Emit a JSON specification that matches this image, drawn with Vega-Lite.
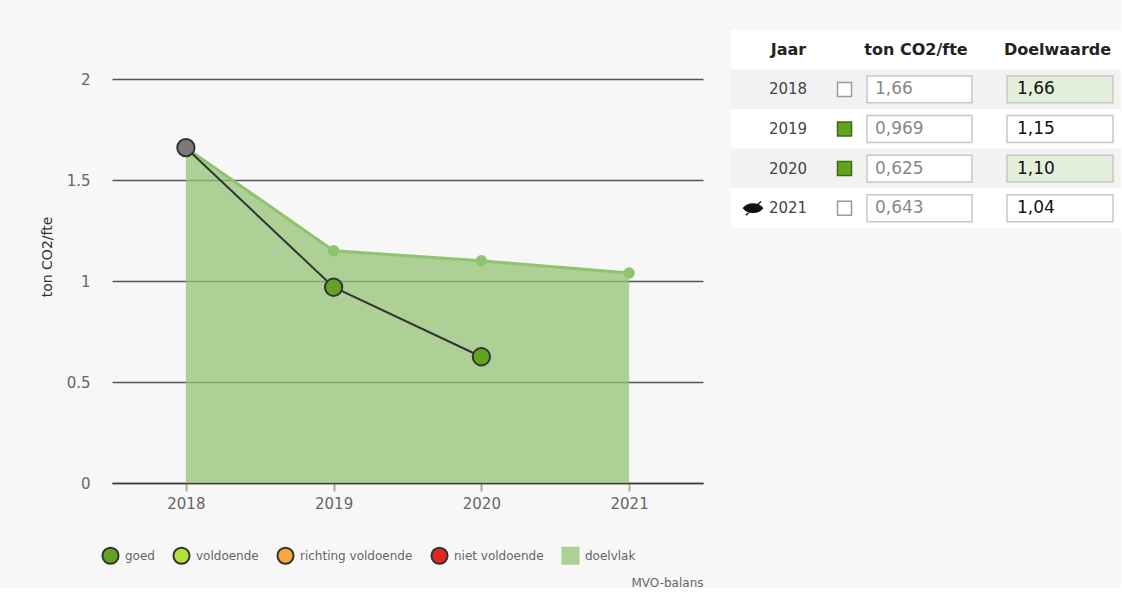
{
  "$schema": "https://vega.github.io/schema/vega-lite/v6.json",
  "background": "#f7f7f7",
  "padding": {"left": 40, "top": 30, "right": 0, "bottom": 0},
  "config": {"font": "DejaVu Sans", "view": {"stroke": null}},
  "datasets": {
    "co2": [
      {"jaar": 2018, "waarde": 1.66, "doel": 1.66, "status": "basisjaar"},
      {"jaar": 2019, "waarde": 0.969, "doel": 1.15, "status": "goed"},
      {"jaar": 2020, "waarde": 0.625, "doel": 1.10, "status": "goed"},
      {"jaar": 2021, "waarde": 0.643, "doel": 1.04, "status": "verborgen"}
    ]
  },
  "spacing": 28,
  "hconcat": [
    {
      "width": 591,
      "height": 453,
      "view": {"fill": "#f7f7f7", "stroke": null},
      "data": {"name": "co2"},
      "encoding": {
        "x": {
          "field": "jaar",
          "type": "quantitative",
          "scale": {"domain": [2017.5, 2021.5], "nice": false, "zero": false},
          "axis": {
            "values": [2018, 2019, 2020, 2021],
            "format": "d",
            "grid": false,
            "domainColor": "#3a3a3a",
            "domainWidth": 1.5,
            "tickColor": "#a8a8a8",
            "tickSize": 8,
            "tickWidth": 2,
            "labelPadding": 5,
            "labelFontSize": 15,
            "labelColor": "#666666",
            "labelFlush": false,
            "title": "MVO-balans",
            "titleAnchor": "end",
            "titleAlign": "right",
            "titleFontSize": 12,
            "titleFontWeight": "normal",
            "titleColor": "#666666",
            "titlePadding": 66
          }
        }
      },
      "layer": [
        {
          "mark": {"type": "area", "fill": "#93c374", "fillOpacity": 0.75},
          "encoding": {
            "y": {
              "field": "doel", "type": "quantitative",
              "scale": {"domain": [0, 2.2426], "nice": false},
              "axis": {"values": [0, 0.5, 1, 1.5, 2], "format": ".1~f", "grid": true, "gridColor": "#555555", "gridWidth": 1.3, "domain": false, "ticks": false, "labelPadding": 22, "labelFontSize": 15, "labelColor": "#666666", "title": "ton CO2/fte", "titleFontSize": 14, "titleFontWeight": "normal", "titleColor": "#333333", "titlePadding": 12}
            }
          }
        },
        {
          "mark": {"type": "line", "stroke": "#8ec46f", "strokeWidth": 3},
          "encoding": {
            "y": {
              "field": "doel", "type": "quantitative",
              "scale": {"domain": [0, 2.2426], "nice": false},
              "axis": {"values": [0, 0.5, 1, 1.5, 2], "format": ".1~f", "grid": true, "gridColor": "#555555", "gridWidth": 1.3, "domain": false, "ticks": false, "labelPadding": 22, "labelFontSize": 15, "labelColor": "#666666", "title": "ton CO2/fte", "titleFontSize": 14, "titleFontWeight": "normal", "titleColor": "#333333", "titlePadding": 12}
            }
          }
        },
        {
          "mark": {"type": "point", "filled": true, "fill": "#8ec46f", "size": 130, "opacity": 1, "strokeWidth": 0},
          "encoding": {
            "y": {
              "field": "doel", "type": "quantitative",
              "scale": {"domain": [0, 2.2426], "nice": false},
              "axis": {"values": [0, 0.5, 1, 1.5, 2], "format": ".1~f", "grid": true, "gridColor": "#555555", "gridWidth": 1.3, "domain": false, "ticks": false, "labelPadding": 22, "labelFontSize": 15, "labelColor": "#666666", "title": "ton CO2/fte", "titleFontSize": 14, "titleFontWeight": "normal", "titleColor": "#333333", "titlePadding": 12}
            }
          }
        },
        {
          "transform": [{"filter": "datum.status != 'verborgen'"}],
          "mark": {"type": "line", "stroke": "#333333", "strokeWidth": 2},
          "encoding": {
            "y": {
              "field": "waarde", "type": "quantitative",
              "scale": {"domain": [0, 2.2426], "nice": false},
              "axis": {"values": [0, 0.5, 1, 1.5, 2], "format": ".1~f", "grid": true, "gridColor": "#555555", "gridWidth": 1.3, "domain": false, "ticks": false, "labelPadding": 22, "labelFontSize": 15, "labelColor": "#666666", "title": "ton CO2/fte", "titleFontSize": 14, "titleFontWeight": "normal", "titleColor": "#333333", "titlePadding": 12}
            }
          }
        },
        {
          "transform": [{"filter": "datum.status != 'verborgen'"}],
          "mark": {"type": "point", "filled": true, "size": 300, "strokeWidth": 2, "opacity": 1},
          "encoding": {
            "y": {
              "field": "waarde", "type": "quantitative",
              "scale": {"domain": [0, 2.2426], "nice": false},
              "axis": {"values": [0, 0.5, 1, 1.5, 2], "format": ".1~f", "grid": true, "gridColor": "#555555", "gridWidth": 1.3, "domain": false, "ticks": false, "labelPadding": 22, "labelFontSize": 15, "labelColor": "#666666", "title": "ton CO2/fte", "titleFontSize": 14, "titleFontWeight": "normal", "titleColor": "#333333", "titlePadding": 12}
            },
            "fill": {
              "field": "status", "type": "nominal",
              "scale": {
                "domain": ["goed", "voldoende", "richting voldoende", "niet voldoende", "doelvlak", "basisjaar"],
                "range": ["#62a420", "#b0e33a", "#f9a63a", "#e2271e", "#acd095", "#7a7a7a"]
              },
              "legend": {
                "title": null, "orient": "none", "legendX": -11, "legendY": 516, "direction": "horizontal",
                "values": ["goed", "voldoende", "richting voldoende", "niet voldoende", "doelvlak"],
                "symbolSize": 260, "symbolStrokeWidth": 2, "symbolOpacity": 1,
                "labelFontSize": 12, "labelColor": "#666666", "columnPadding": 14, "labelOffset": 5
              }
            },
            "shape": {
              "field": "status", "type": "nominal",
              "scale": {
                "domain": ["goed", "voldoende", "richting voldoende", "niet voldoende", "doelvlak", "basisjaar"],
                "range": ["circle", "circle", "circle", "circle", "square", "circle"]
              },
              "legend": {
                "title": null, "orient": "none", "legendX": -11, "legendY": 516, "direction": "horizontal",
                "values": ["goed", "voldoende", "richting voldoende", "niet voldoende", "doelvlak"],
                "symbolSize": 260, "symbolStrokeWidth": 2, "symbolOpacity": 1,
                "labelFontSize": 12, "labelColor": "#666666", "columnPadding": 14, "labelOffset": 5
              }
            },
            "stroke": {
              "field": "status", "type": "nominal",
              "scale": {
                "domain": ["goed", "voldoende", "richting voldoende", "niet voldoende", "doelvlak", "basisjaar"],
                "range": ["#333333", "#333333", "#333333", "#333333", "#acd095", "#333333"]
              },
              "legend": {
                "title": null, "orient": "none", "legendX": -11, "legendY": 516, "direction": "horizontal",
                "values": ["goed", "voldoende", "richting voldoende", "niet voldoende", "doelvlak"],
                "symbolSize": 260, "symbolStrokeWidth": 2, "symbolOpacity": 1,
                "labelFontSize": 12, "labelColor": "#666666", "columnPadding": 14, "labelOffset": 5
              }
            }
          }
        }
      ]
    },
    {
      "width": 390,
      "height": 198,
      "view": {"fill": "#ffffff", "stroke": null},
      "data": {"name": "co2"},
      "transform": [
        {"calculate": "'' + datum.jaar", "as": "rij"},
        {"calculate": "replace(format(datum.waarde, '.3r'), '.', ',')", "as": "ton_tekst"},
        {"calculate": "replace(format(datum.doel, '.2f'), '.', ',')", "as": "doel_tekst"}
      ],
      "encoding": {
        "y": {
          "field": "rij", "type": "nominal",
          "scale": {"domain": ["kop", "2018", "2019", "2020", "2021"], "paddingInner": 0, "paddingOuter": 0},
          "axis": null
        }
      },
      "layer": [
        {
          "mark": {"type": "rect"},
          "encoding": {
            "x": {
              "datum": 0, "type": "quantitative",
              "scale": {"domain": [0, 390], "nice": false, "zero": false},
              "axis": {"orient": "top", "offset": -39.6, "values": [57, 184.5, 326], "labelExpr": "datum.value < 100 ? 'Jaar' : (datum.value < 250 ? 'ton CO2/fte' : 'Doelwaarde')", "domain": false, "ticks": false, "grid": false, "title": null, "labelFontSize": 16, "labelFontWeight": "bold", "labelColor": "#222222", "labelBaseline": "middle", "labelAlign": "center", "labelPadding": 20, "labelOverlap": false, "labelBound": false, "labelFlush": false}
            },
            "x2": {"datum": 390},
            "fill": {"condition": {"test": "datum.jaar == 2018 || datum.jaar == 2020", "value": "#f2f2f2"}, "value": "#ffffff"}
          }
        },
        {
          "transform": [{"filter": "datum.status == 'verborgen'"}],
          "mark": {
            "type": "point",
            "shape": "M -1 0 C -0.55 -0.6 0.55 -0.6 1 0 C 0.55 0.6 -0.55 0.6 -1 0 Z M -0.75 0.75 L 0.85 -0.7",
            "size": 360, "filled": true, "fill": "#111111", "stroke": "#111111", "strokeWidth": 1.3, "opacity": 1
          },
          "encoding": {
            "x": {
              "datum": 22, "type": "quantitative",
              "scale": {"domain": [0, 390], "nice": false, "zero": false},
              "axis": {"orient": "top", "offset": -39.6, "values": [57, 184.5, 326], "labelExpr": "datum.value < 100 ? 'Jaar' : (datum.value < 250 ? 'ton CO2/fte' : 'Doelwaarde')", "domain": false, "ticks": false, "grid": false, "title": null, "labelFontSize": 16, "labelFontWeight": "bold", "labelColor": "#222222", "labelBaseline": "middle", "labelAlign": "center", "labelPadding": 20, "labelOverlap": false, "labelBound": false, "labelFlush": false}
            }
          }
        },
        {
          "mark": {"type": "text", "align": "center", "baseline": "middle", "fontSize": 15, "color": "#444444"},
          "encoding": {
            "x": {
              "datum": 57, "type": "quantitative",
              "scale": {"domain": [0, 390], "nice": false, "zero": false},
              "axis": {"orient": "top", "offset": -39.6, "values": [57, 184.5, 326], "labelExpr": "datum.value < 100 ? 'Jaar' : (datum.value < 250 ? 'ton CO2/fte' : 'Doelwaarde')", "domain": false, "ticks": false, "grid": false, "title": null, "labelFontSize": 16, "labelFontWeight": "bold", "labelColor": "#222222", "labelBaseline": "middle", "labelAlign": "center", "labelPadding": 20, "labelOverlap": false, "labelBound": false, "labelFlush": false}
            },
            "text": {"field": "rij", "type": "nominal"}
          }
        },
        {
          "mark": {"type": "point", "shape": "square", "size": 196, "filled": true, "strokeWidth": 1.5, "opacity": 1},
          "encoding": {
            "x": {
              "datum": 113.5, "type": "quantitative",
              "scale": {"domain": [0, 390], "nice": false, "zero": false},
              "axis": {"orient": "top", "offset": -39.6, "values": [57, 184.5, 326], "labelExpr": "datum.value < 100 ? 'Jaar' : (datum.value < 250 ? 'ton CO2/fte' : 'Doelwaarde')", "domain": false, "ticks": false, "grid": false, "title": null, "labelFontSize": 16, "labelFontWeight": "bold", "labelColor": "#222222", "labelBaseline": "middle", "labelAlign": "center", "labelPadding": 20, "labelOverlap": false, "labelBound": false, "labelFlush": false}
            },
            "fill": {"condition": {"test": "datum.status == 'goed'", "value": "#62a420"}, "value": "#ffffff"},
            "stroke": {"condition": {"test": "datum.status == 'goed'", "value": "#3d6b12"}, "value": "#9a9a9a"}
          }
        },
        {
          "mark": {"type": "rect", "height": {"band": 0.68}, "fill": "#ffffff", "stroke": "#c8c8c8", "strokeWidth": 1.5},
          "encoding": {
            "x": {
              "datum": 136, "type": "quantitative",
              "scale": {"domain": [0, 390], "nice": false, "zero": false},
              "axis": {"orient": "top", "offset": -39.6, "values": [57, 184.5, 326], "labelExpr": "datum.value < 100 ? 'Jaar' : (datum.value < 250 ? 'ton CO2/fte' : 'Doelwaarde')", "domain": false, "ticks": false, "grid": false, "title": null, "labelFontSize": 16, "labelFontWeight": "bold", "labelColor": "#222222", "labelBaseline": "middle", "labelAlign": "center", "labelPadding": 20, "labelOverlap": false, "labelBound": false, "labelFlush": false}
            },
            "x2": {"datum": 241}
          }
        },
        {
          "mark": {"type": "text", "align": "left", "baseline": "middle", "fontSize": 17, "color": "#888888"},
          "encoding": {
            "x": {
              "datum": 144, "type": "quantitative",
              "scale": {"domain": [0, 390], "nice": false, "zero": false},
              "axis": {"orient": "top", "offset": -39.6, "values": [57, 184.5, 326], "labelExpr": "datum.value < 100 ? 'Jaar' : (datum.value < 250 ? 'ton CO2/fte' : 'Doelwaarde')", "domain": false, "ticks": false, "grid": false, "title": null, "labelFontSize": 16, "labelFontWeight": "bold", "labelColor": "#222222", "labelBaseline": "middle", "labelAlign": "center", "labelPadding": 20, "labelOverlap": false, "labelBound": false, "labelFlush": false}
            },
            "text": {"field": "ton_tekst", "type": "nominal"}
          }
        },
        {
          "mark": {"type": "rect", "height": {"band": 0.68}, "stroke": "#c8c8c8", "strokeWidth": 1.5},
          "encoding": {
            "x": {
              "datum": 276, "type": "quantitative",
              "scale": {"domain": [0, 390], "nice": false, "zero": false},
              "axis": {"orient": "top", "offset": -39.6, "values": [57, 184.5, 326], "labelExpr": "datum.value < 100 ? 'Jaar' : (datum.value < 250 ? 'ton CO2/fte' : 'Doelwaarde')", "domain": false, "ticks": false, "grid": false, "title": null, "labelFontSize": 16, "labelFontWeight": "bold", "labelColor": "#222222", "labelBaseline": "middle", "labelAlign": "center", "labelPadding": 20, "labelOverlap": false, "labelBound": false, "labelFlush": false}
            },
            "x2": {"datum": 382},
            "fill": {"condition": {"test": "datum.jaar == 2018 || datum.jaar == 2020", "value": "#e2efda"}, "value": "#ffffff"}
          }
        },
        {
          "mark": {"type": "text", "align": "left", "baseline": "middle", "fontSize": 17, "color": "#111111"},
          "encoding": {
            "x": {
              "datum": 286, "type": "quantitative",
              "scale": {"domain": [0, 390], "nice": false, "zero": false},
              "axis": {"orient": "top", "offset": -39.6, "values": [57, 184.5, 326], "labelExpr": "datum.value < 100 ? 'Jaar' : (datum.value < 250 ? 'ton CO2/fte' : 'Doelwaarde')", "domain": false, "ticks": false, "grid": false, "title": null, "labelFontSize": 16, "labelFontWeight": "bold", "labelColor": "#222222", "labelBaseline": "middle", "labelAlign": "center", "labelPadding": 20, "labelOverlap": false, "labelBound": false, "labelFlush": false}
            },
            "text": {"field": "doel_tekst", "type": "nominal"}
          }
        }
      ]
    }
  ]
}
